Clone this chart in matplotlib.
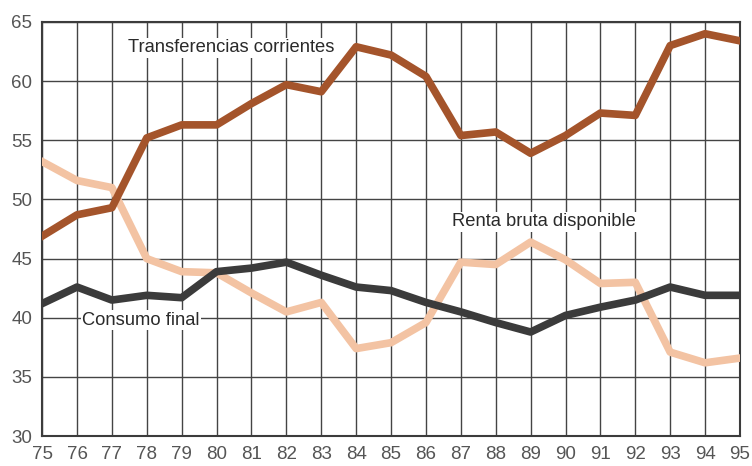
import matplotlib.pyplot as plt
import numpy as np

# years 1975-1995 (shown as 2-digit labels)
years = list(range(75, 96))

transferencias = [46.9, 48.7, 49.3, 55.2, 56.3, 56.3, 58.1, 59.7, 59.1, 62.9, 62.2,
                  60.4, 55.4, 55.7, 53.9, 55.4, 57.3, 57.1, 63.0, 64.0, 63.4]
renta = [53.2, 51.6, 51.0, 45.0, 43.9, 43.8, 42.1, 40.5, 41.3, 37.4, 37.9,
         39.6, 44.7, 44.5, 46.4, 44.9, 42.9, 43.0, 37.1, 36.2, 36.6]
consumo = [41.2, 42.6, 41.5, 41.9, 41.7, 43.9, 44.2, 44.7, 43.6, 42.6, 42.3,
           41.3, 40.5, 39.6, 38.8, 40.2, 40.9, 41.5, 42.6, 41.9, 41.9]

plt.rcParams['font.family'] = ['Liberation Sans', 'DejaVu Sans']

fig = plt.figure(figsize=(7.52, 4.66), dpi=100)
ax = fig.add_axes([0.056, 0.064, 0.928, 0.889])

ax.set_xlim(75, 95)
ax.set_ylim(30, 65)
ax.set_xticks(years)
ax.set_xticklabels([str(y) for y in years])
ax.set_yticks(np.arange(30, 66, 5))

ax.grid(True, color='#444444', linewidth=1.0)
ax.set_axisbelow(True)
for s in ax.spines.values():
    s.set_color('#3c3c3c')
    s.set_linewidth(1.5)
ax.tick_params(length=0, labelsize=13.5, colors='#555555', pad=7)

ax.plot(years, renta, color='#f3c3a3', linewidth=5.5, solid_joinstyle='round', zorder=3)
ax.plot(years, consumo, color='#3b3b3b', linewidth=5.5, solid_joinstyle='round', zorder=4)
ax.plot(years, transferencias, color='#a4542b', linewidth=5.5, solid_joinstyle='round', zorder=5)

box = dict(facecolor='white', edgecolor='none', pad=1)
ax.text(77.45, 62.8, 'Transferencias corrientes', fontsize=13.2, color='#2a2a2a',
        va='center', ha='left', bbox=box, zorder=6)
ax.text(86.75, 48.1, 'Renta bruta disponible', fontsize=13.2, color='#2a2a2a',
        va='center', ha='left', bbox=box, zorder=6)
ax.text(76.15, 39.8, 'Consumo final', fontsize=13.2, color='#2a2a2a',
        va='center', ha='left', bbox=box, zorder=6)

fig.savefig('out.png', dpi=100)
